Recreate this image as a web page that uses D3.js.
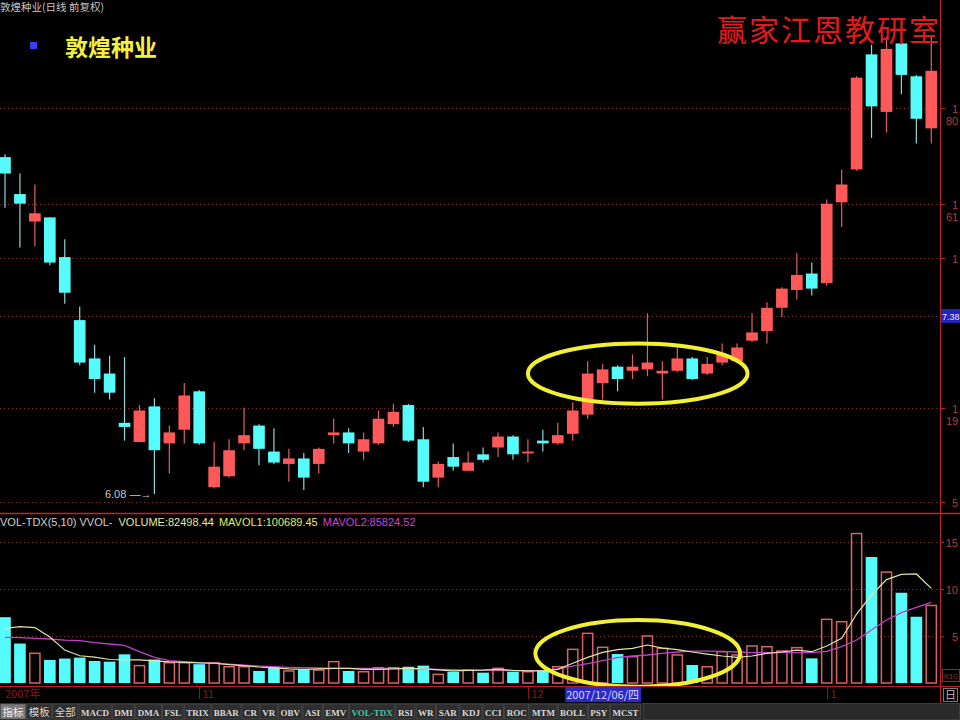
<!DOCTYPE html>
<html><head><meta charset="utf-8">
<script src="https://cdn.jsdelivr.net/npm/d3@7"></script>
<style>html,body{margin:0;padding:0;background:#000;overflow:hidden}</style>
</head><body><svg id="c" width="960" height="720"></svg>
<script>
// ---------- data ----------
const dates = ["10/15","10/16","10/17","10/18","10/19","10/22","10/23","10/24","10/25","10/26","10/29","10/30","10/31",
"11/01","11/02","11/05","11/06","11/07","11/08","11/09","11/12","11/13","11/14","11/15","11/16","11/19","11/20","11/21","11/22","11/23","11/26","11/27","11/28","11/29","11/30",
"12/03","12/04","12/05","12/06","12/07","12/10","12/11","12/12","12/13","12/14","12/17","12/18","12/19","12/20","12/21","12/24","12/25","12/26","12/27","12/28",
"01/02","01/03","01/04","01/07","01/08","01/09","01/10","01/11"];
const opens  = [8.54,8.27,8.07,8.10,7.81,7.35,7.07,6.96,6.60,6.46,6.72,6.45,6.55,6.83,6.13,6.21,6.45,6.58,6.39,6.30,6.34,6.30,6.51,6.53,6.39,6.45,6.59,6.73,6.48,6.20,6.35,6.25,6.37,6.42,6.50,6.38,6.47,6.45,6.52,6.66,6.89,7.01,6.98,6.99,6.96,6.98,7.07,6.96,7.04,7.05,7.20,7.27,7.44,7.57,7.69,7.62,8.21,8.45,9.29,8.87,9.37,9.13,8.75];
const closes = [8.42,8.20,8.13,7.77,7.55,7.04,6.92,6.82,6.57,6.69,6.40,6.53,6.80,6.45,6.28,6.40,6.51,6.41,6.31,6.34,6.20,6.41,6.53,6.45,6.48,6.63,6.68,6.47,6.17,6.30,6.28,6.31,6.33,6.50,6.37,6.39,6.45,6.51,6.69,6.96,6.99,6.92,7.01,7.04,6.98,7.07,6.92,7.03,7.10,7.15,7.26,7.44,7.58,7.68,7.58,8.20,8.34,9.12,8.91,9.33,9.14,8.82,9.17];
const highs  = [8.56,8.42,8.34,8.10,7.94,7.45,7.17,7.09,7.08,6.73,6.78,6.58,6.89,6.84,6.46,6.48,6.71,6.59,6.56,6.41,6.38,6.42,6.63,6.56,6.53,6.69,6.74,6.74,6.57,6.32,6.45,6.39,6.42,6.53,6.51,6.48,6.55,6.60,6.75,7.05,7.03,7.02,7.10,7.40,7.05,7.15,7.08,7.08,7.18,7.18,7.40,7.48,7.59,7.84,7.77,8.23,8.45,9.13,9.36,9.42,9.45,9.14,9.42];
const lows   = [8.17,7.88,7.89,7.75,7.47,7.02,6.82,6.77,6.47,6.46,6.08,6.23,6.45,6.44,6.12,6.20,6.40,6.29,6.30,6.17,6.11,6.23,6.45,6.38,6.33,6.44,6.57,6.46,6.13,6.13,6.25,6.25,6.31,6.35,6.33,6.31,6.39,6.44,6.47,6.63,6.77,6.83,6.92,6.94,6.77,6.97,6.91,6.95,7.02,7.05,7.19,7.18,7.37,7.50,7.53,7.60,8.03,8.44,8.68,8.72,9.00,8.64,8.64];
// volume in units of 10,000 shares
const volumes = [7.0,4.2,3.16,2.45,2.6,2.7,2.34,2.27,3.05,1.85,2.5,2.16,2.16,2.0,2.16,1.73,1.73,1.28,1.73,1.28,1.45,1.38,2.27,1.28,1.2,1.63,1.63,1.73,1.85,0.92,1.2,1.38,1.1,1.56,1.2,1.2,1.31,1.73,3.58,5.28,3.8,3.08,2.8,5.0,3.69,2.98,1.91,1.73,3.33,2.98,3.94,3.86,3.4,3.76,2.62,6.77,6.52,15.9,13.4,11.8,9.6,7.05,8.25];
const mavol1 = [5.8,6.0,5.9,4.9,3.5,2.9,2.75,2.5,2.45,2.45,2.35,2.25,2.2,2.15,2.1,1.95,1.85,1.7,1.6,1.5,1.45,1.5,1.55,1.55,1.45,1.45,1.5,1.55,1.5,1.4,1.3,1.35,1.38,1.45,1.35,1.3,1.3,1.45,2.1,2.73,3.26,3.55,3.69,4.04,3.72,3.55,3.3,3.08,2.87,2.73,2.87,3.16,3.3,3.5,3.33,3.94,4.75,7.34,9.36,11.0,11.56,11.6,10.07];
const mavol2 = [4.86,4.83,4.75,4.68,4.57,4.5,4.3,4.15,4.0,3.33,2.73,2.37,2.27,2.16,2.1,2.0,1.9,1.8,1.73,1.67,1.63,1.6,1.56,1.56,1.56,1.56,1.56,1.52,1.49,1.45,1.42,1.38,1.38,1.35,1.31,1.31,1.35,1.49,1.8,2.05,2.37,2.7,2.87,2.98,3.16,3.3,3.4,3.4,3.37,3.3,3.23,3.23,3.23,3.23,3.23,3.37,3.86,4.57,5.64,6.7,7.48,8.05,8.58];
const priceGrid = [8.90,8.20,7.80,7.38,6.71,6.02];
const priceTickLabels = [["1","80"],["1","61"],["1",""],["",""],["1","19"],["5",""]];
const volTicks = [5,10,15];
const volTickLabels = ["5","10","15"];
const lowMark = {index:10, label:"6.08"};
const cursorPrice = "7.38";
const cursorDate = {index:38, label:"2007/12/06/四"};
const priceHighlight = {from:35.0, to:49.7, lo:6.74, hi:7.18};
const volHighlight = {from:35.5, to:49.2, lo:-0.4, hi:6.7};
const tabs = ["指标","模板","全部","MACD","DMI","DMA","FSL","TRIX","BBAR","CR","VR","OBV","ASI","EMV","VOL-TDX","RSI","WR","SAR","KDJ","CCI","ROC","MTM","BOLL","PSY","MCST"];
const stockName = "敦煌种业";
const topTitle = "敦煌种业(日线 前复权)";
const watermark = "赢家江恩教研室";
const volTitle = [["VOL-TDX(5,10) VVOL-","#d0d0d0"],["VOLUME:82498.44","#e6e6a0"],["MAVOL1:100689.45","#e8e860"],["MAVOL2:85824.52","#d040d0"]];

// ---------- drawing ----------
const W=960,H=720;
const svg = d3.select("#c");
svg.append("rect").attr("width",W).attr("height",H).attr("fill","#000");
const n = dates.length;
const xs = d3.scaleLinear().domain([0,n-1]).range([5,931.3]);
const step = xs(1)-xs(0);
const bw = step*0.78;
const yP = d3.scaleLinear().domain([5.949,9.687]).range([512,0]);
const yV = d3.scaleLinear().domain([0,15]).range([683,542]);
const RED="#ff5858", CYAN="#56fcfc", AXIS="#b82222", GRID="#7a3030";
const LAT="'Liberation Sans',Arial,sans-serif", CJK="'Noto Sans CJK SC',sans-serif";

const defs = svg.append("defs");
defs.append("clipPath").attr("id","cm").append("rect").attr("x",0).attr("y",0).attr("width",940).attr("height",513);
defs.append("clipPath").attr("id","cv").append("rect").attr("x",0).attr("y",514).attr("width",940).attr("height",172);

const data = d3.range(n).map(i=>({i,o:opens[i],c:closes[i],h:highs[i],l:lows[i],v:volumes[i],up:closes[i]>=opens[i]}));

// main grid
const gm = svg.append("g").attr("clip-path","url(#cm)");
gm.selectAll("line.g").data(priceGrid).join("line")
  .attr("x1",0).attr("x2",940).attr("y1",d=>Math.round(yP(d))+0.5).attr("y2",d=>Math.round(yP(d))+0.5)
  .attr("stroke",GRID).attr("stroke-dasharray","1,3");

// candles
gm.selectAll("line.w").data(data).join("line")
  .attr("x1",d=>xs(d.i)).attr("x2",d=>xs(d.i)).attr("y1",d=>yP(d.h)).attr("y2",d=>yP(d.l))
  .attr("stroke",d=>d.up?"#e06060":"#8fd6d6").attr("stroke-width",1.2);
gm.selectAll("rect.b").data(data).join("rect")
  .attr("x",d=>xs(d.i)-bw/2).attr("width",bw)
  .attr("y",d=>yP(Math.max(d.o,d.c)))
  .attr("height",d=>Math.max(1.8,Math.abs(yP(d.o)-yP(d.c))))
  .attr("fill",d=>d.up?RED:CYAN);

// low marker
gm.append("text").attr("x",xs(lowMark.index)-3).attr("y",yP(lows[lowMark.index])+4)
  .attr("text-anchor","end").attr("font-family",LAT).attr("font-size",11).attr("fill","#c8c8c8")
  .text(lowMark.label+" —→");

// highlight ellipse (price)
gm.append("ellipse")
  .attr("cx",(xs(priceHighlight.from)+xs(priceHighlight.to))/2)
  .attr("cy",(yP(priceHighlight.lo)+yP(priceHighlight.hi))/2)
  .attr("rx",(xs(priceHighlight.to)-xs(priceHighlight.from))/2)
  .attr("ry",(yP(priceHighlight.lo)-yP(priceHighlight.hi))/2)
  .attr("fill","none").attr("stroke","#f2f032").attr("stroke-width",4);

// volume pane
const gv = svg.append("g").attr("clip-path","url(#cv)");
gv.selectAll("line.g").data(volTicks).join("line")
  .attr("x1",0).attr("x2",940).attr("y1",d=>Math.round(yV(d))+0.5).attr("y2",d=>Math.round(yV(d))+0.5)
  .attr("stroke",GRID).attr("stroke-dasharray","1,3");
gv.selectAll("rect.v").data(data).join("rect")
  .attr("x",d=>xs(d.i)-bw/2+(d.up?0.75:0)).attr("width",d=>d.up?bw-1.5:bw)
  .attr("y",d=>yV(d.v)).attr("height",d=>yV(0)-yV(d.v))
  .attr("fill",d=>d.up?"none":CYAN)
  .attr("stroke",d=>d.up?"#d86464":"none").attr("stroke-width",1.5);
const lineGen = d3.line().x((d,i)=>xs(i)).y(d=>yV(d));
gv.append("path").attr("d",lineGen(mavol2)).attr("fill","none").attr("stroke","#c040c8").attr("stroke-width",1.3);
gv.append("path").attr("d",lineGen(mavol1)).attr("fill","none").attr("stroke","#e4e4a8").attr("stroke-width",1.2);
gv.append("ellipse")
  .attr("cx",(xs(volHighlight.from)+xs(volHighlight.to))/2)
  .attr("cy",(yV(volHighlight.lo)+yV(volHighlight.hi))/2)
  .attr("rx",(xs(volHighlight.to)-xs(volHighlight.from))/2)
  .attr("ry",(yV(volHighlight.lo)-yV(volHighlight.hi))/2)
  .attr("fill","none").attr("stroke","#f2f032").attr("stroke-width",4);

// volume title
const vt = svg.append("text").attr("x",0).attr("y",526).attr("font-family",LAT).attr("font-size",11);
volTitle.forEach(([t,c],k)=>vt.append("tspan").attr("fill",c).attr("dx",k?(k===1?6:5):0).text(t));

// frame lines
svg.append("line").attr("x1",0).attr("x2",W).attr("y1",513.5).attr("y2",513.5).attr("stroke","#c42626").attr("stroke-width",1.5);
svg.append("line").attr("x1",0).attr("x2",W).attr("y1",686.5).attr("y2",686.5).attr("stroke",AXIS);
svg.append("line").attr("x1",940.5).attr("x2",940.5).attr("y1",0).attr("y2",703).attr("stroke",AXIS);

// right axis - price
const ra = svg.append("g");
priceGrid.forEach((p,k)=>{
  const y=Math.round(yP(p))+0.5;
  ra.append("line").attr("x1",940).attr("x2",945).attr("y1",y).attr("y2",y).attr("stroke",AXIS);
  const [a,b]=priceTickLabels[k];
  ra.append("text").attr("x",952).attr("y",y+4).attr("font-family",LAT).attr("font-size",11).attr("fill","#b83a3a").text(a);
  ra.append("text").attr("x",946).attr("y",y+16).attr("font-family",LAT).attr("font-size",11).attr("fill","#b83a3a").text(b);
});
const cy = yP(+cursorPrice);
ra.append("rect").attr("x",941).attr("y",cy-7).attr("width",19).attr("height",14).attr("fill","#2323b8");
ra.append("text").attr("x",942).attr("y",cy+4).attr("font-family",LAT).attr("font-size",9).attr("fill","#e8e8ff").text(cursorPrice);

// right axis - volume
volTicks.forEach((v,k)=>{
  const y=Math.round(yV(v))+0.5;
  ra.append("line").attr("x1",940).attr("x2",944).attr("y1",y).attr("y2",y).attr("stroke",AXIS);
  ra.append("text").attr("x",958).attr("y",y+4).attr("text-anchor","end").attr("font-family",LAT).attr("font-size",11).attr("fill","#b83a3a").text(volTickLabels[k]);
});
ra.append("rect").attr("x",942.5).attr("y",669.5).attr("width",17).attr("height",12).attr("fill","none").attr("stroke","#8a2a2a");
ra.append("text").attr("x",943.5).attr("y",679).attr("font-family",LAT).attr("font-size",8).attr("fill","#8a3a3a").text("X10");

// date axis
const da = svg.append("g");
da.append("text").attr("x",5).attr("y",698).attr("font-family",CJK).attr("font-size",11).attr("fill","#8a1818").text("2007年");
dates.forEach((d,i)=>{
  if(i>0 && d.slice(0,2)!==dates[i-1].slice(0,2)){
    const x=Math.round(xs(i))+0.5;
    da.append("line").attr("x1",x).attr("x2",x).attr("y1",687).attr("y2",699).attr("stroke","#8a1818");
    da.append("text").attr("x",x+3).attr("y",698).attr("font-family",LAT).attr("font-size",11).attr("fill","#8a1818").text(String(+d.slice(0,2)));
  }
});
const cdx = xs(cursorDate.index)-step/2;
const cdt = da.append("text").attr("x",cdx+1).attr("y",699).attr("font-family",CJK).attr("font-size",11).attr("fill","#d8d8ff").text(cursorDate.label);
const cdw = cdt.node().getComputedTextLength();
da.insert("rect","text").attr("x",cdx).attr("y",687).attr("width",cdw+3).attr("height",15).attr("fill","#2a2ac4");
da.append("rect").attr("x",943.5).attr("y",688.5).attr("width",14).attr("height",13).attr("fill","none").attr("stroke","#777");
da.append("text").attr("x",945).attr("y",699).attr("font-family",CJK).attr("font-size",11).attr("fill","#bbb").text("日");

// tab bar (laid out to span the same width as the original bar)
const tb = svg.append("g");
tb.append("rect").attr("x",0).attr("y",703).attr("width",W).attr("height",17).attr("fill","#262626");
tb.append("rect").attr("x",643.5).attr("y",703.5).attr("width",316).attr("height",16).attr("fill","#2a2a2a").attr("stroke","#7a2020");
const tabNodes = tabs.map((t,k)=>{
  const isCjk=/[\u4e00-\u9fff]/.test(t);
  const g=tb.append("g");
  const r=g.append("rect").attr("y",704).attr("height",15).attr("fill",k===0?"#7a7a7a":"#2e2e2e").attr("stroke","#555").attr("stroke-width",0.6);
  const tt=g.append("text").attr("y",716).attr("font-family",isCjk?CJK:"'Liberation Serif',serif")
    .attr("font-size",isCjk?10.5:9).attr("font-weight",isCjk?"normal":"bold")
    .attr("fill",t==="VOL-TDX"?"#3cc8a0":(k===0?"#f0f0f0":"#d8d8d8")).text(t);
  return {r,tt,w:tt.node().getComputedTextLength()+4};
});
const tabSpan = 640, totalW = d3.sum(tabNodes,d=>d.w);
const gap = Math.max(0.5,(tabSpan-totalW)/(tabs.length-1));
let tx=0.5;
tabNodes.forEach(d=>{ d.r.attr("x",tx).attr("width",d.w); d.tt.attr("x",tx+2); tx+=d.w+gap; });

// headers
svg.append("text").attr("x",0).attr("y",11).attr("font-family",CJK).attr("font-size",10.5).attr("fill","#c4c4c4").text(topTitle);
svg.append("rect").attr("x",30).attr("y",42).attr("width",7).attr("height",7).attr("fill","#3c3cf0");
svg.append("text").attr("x",65).attr("y",56).attr("font-family",CJK).attr("font-weight","bold").attr("font-size",23).attr("fill","#f4f040").text(stockName);
svg.append("text").attr("x",717).attr("y",41).attr("font-family",CJK).attr("font-size",30).attr("fill","#e41a1a").attr("textLength",222).text(watermark);
</script></body></html>
